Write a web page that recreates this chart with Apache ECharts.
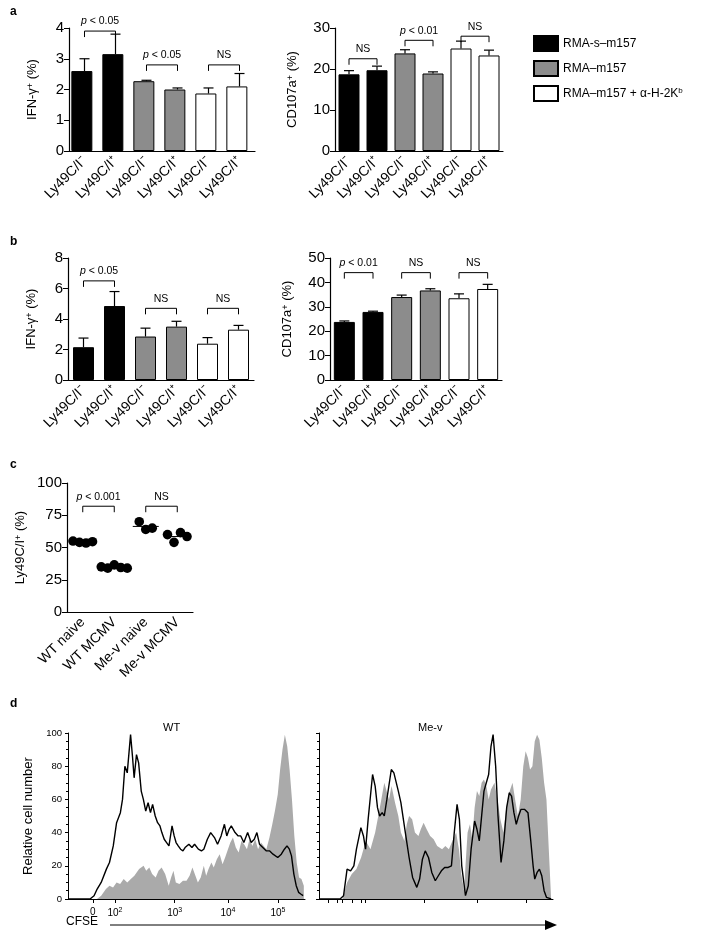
<!DOCTYPE html>
<html><head><meta charset="utf-8">
<script src="https://cdn.jsdelivr.net/npm/echarts@6/dist/echarts.min.js"></script>
<style>html,body{margin:0;padding:0;background:#fff}#c{width:714px;height:942px}</style>
</head><body><div id="c"></div>
<script>
// ---------- data ----------
const barCats = ['Ly49C/I⁻','Ly49C/I⁺','Ly49C/I⁻','Ly49C/I⁺','Ly49C/I⁻','Ly49C/I⁺'];
const barColors = ['#000000','#000000','#8c8c8c','#8c8c8c','#ffffff','#ffffff'];
const aIfnMean = [2.6, 3.15, 2.27, 2.0, 1.87, 2.1];
const aIfnErr  = [0.4, 0.65, 0.03, 0.05, 0.18, 0.42];
const aCdMean  = [18.7, 19.7, 23.8, 18.9, 25.0, 23.3];
const aCdErr   = [0.9, 1.0, 0.9, 0.4, 1.8, 1.3];
const bIfnMean = [2.15, 4.85, 2.85, 3.5, 2.38, 3.3];
const bIfnErr  = [0.6, 0.95, 0.55, 0.35, 0.4, 0.28];
const bCdMean  = [23.8, 27.9, 34.0, 36.7, 33.5, 37.3];
const bCdErr   = [0.4, 0.3, 0.8, 0.7, 1.8, 1.9];
const aIfnSig = [[0,1,3.9,'p < 0.05'],[2,3,2.8,'p < 0.05'],[4,5,2.8,'NS']];
const aCdSig  = [[0,1,22.5,'NS'],[2,3,27,'p < 0.01'],[4,5,28,'NS']];
const bIfnSig = [[0,1,6.5,'p < 0.05'],[2,3,4.7,'NS'],[4,5,4.7,'NS']];
const bCdSig  = [[0,1,44,'p < 0.01'],[2,3,44,'NS'],[4,5,44,'NS']];
const cCats = ['WT naive','WT MCMV','Me-v naive','Me-v MCMV'];
const cWtNaive = [55, 54, 53.5, 54.5];
const cWtMcmv  = [35, 34, 36.5, 34.5, 34];
const cMevNaive = [70, 64, 65];
const cMevMcmv  = [60, 54, 61.5, 58.5];
const cSig = [[0,1,82,'p < 0.001'],[2,3,82,'NS']];
const legendNames = ['RMA-s–m157','RMA–m157','RMA–m157 + α-H-2Kb'];
const dTickVals = [10.5, 19.8, 45, 67.5, 88.6];
const dTickLabels = ['0','10{s|2}','10{s|3}','10{s|4}','10{s|5}'];
const wtBlack = [[0,0],[9.3,0],[11,2],[12.3,6],[14,10],[16.2,18],[17.5,22],[19.1,32],[20.5,46],[22.1,52],[23,60],[24,80],[25,76],[26.4,99],[27.2,86],[27.9,73],[28.9,87],[29.8,82],[30.9,65],[31.8,60],[32.8,53],[33.8,58],[34.8,52],[35.7,57],[36.8,50],[37.8,46],[38.8,44],[39.6,40],[40.6,36],[41.6,34],[42.6,32],[43.9,44],[44.8,38],[45.6,34],[46.5,32],[47.5,30],[48.5,29],[49.4,31],[51,33],[52.3,31],[53.4,33],[55,30],[56.3,29],[57.3,30],[58.8,36],[60.2,40],[61.8,37],[63.1,33],[64.6,38],[66,45],[67,38],[68,42],[68.9,44],[70.5,40],[71.8,38],[72.9,38],[74.2,34],[75.8,40],[77.3,34],[78.6,36],[79.7,40],[80.8,33],[82.2,31],[83.6,29],[85,29],[86.5,27],[88.5,25],[90,27],[91.3,30],[92.4,32],[93.4,30],[94.3,26],[95.3,15],[96.3,8],[97.3,4],[98.2,3],[99.2,2]];
const wtGray = [[12.2,0],[14,2],[16,6],[17.5,8],[19,7],[20.5,10],[22,9],[23.5,12],[25,10],[26.5,12],[28,14],[30,18],[31.9,20],[33,17],[34.3,19],[35.5,15],[37,13],[38.2,17],[39.5,19],[41,15],[42.5,8],[43.5,13],[44.5,17],[45.5,10],[47,9],[48.5,11],[50,11],[51.3,14],[52.5,19],[53.5,15],[54.8,10],[56,13],[57.3,20],[58.3,14],[59.3,18],[60.5,22],[61.5,19],[62.8,24],[64,27],[65.2,21],[66.3,25],[67.5,30],[68.5,34],[69.6,37],[70.8,31],[72,28],[73.2,35],[74.3,33],[75.5,30],[76.6,36],[77.8,32],[79,36],[80.2,30],[81.4,34],[82.6,32],[83.7,30],[85,37],[86.2,45],[87.3,53],[88.5,63],[89.5,78],[90.5,90],[91.5,99],[92.5,92],[93.5,78],[94.5,60],[95.5,38],[96.5,22],[97.5,13],[98.5,12],[99.5,8]];
const mevBlack = [[0,0],[9,0],[10.5,2],[12,18],[13.5,17],[14.9,20],[16,30],[17.9,43],[19,38],[19.9,30],[21,48],[22.9,75],[24,68],[25,55],[25.9,50],[27,52],[27.9,50],[29,60],[30.9,78],[32,76],[33.9,65],[35,58],[36.9,40],[38.5,25],[40,13],[41.8,7],[43,12],[44.2,24],[45.4,29],[46.8,25],[48.2,16],[49.7,11],[51,14],[52.3,17],[53.7,19],[55.2,19],[56.6,20],[57.8,40],[59,57],[60,48],[61,20],[62.6,2],[63.8,8],[65,30],[66.5,47],[67.5,42],[68.5,35],[69.5,50],[70.5,65],[71.5,70],[72.5,75],[73.5,92],[74.4,99],[75.5,80],[76.5,50],[77.8,22],[79,35],[80.2,55],[81.3,64],[82.3,62],[83.3,52],[84.3,45],[85.3,50],[86.3,54],[87.8,54],[89.3,52],[90.5,35],[91.5,20],[92.2,12],[93.2,16],[94.2,18],[95.2,14],[96.2,5],[97.2,1],[98.2,0.5],[99.2,0]];
const mevGray = [[10,0],[12,10],[14,15],[16,18],[18,25],[20,35],[22,30],[24,40],[26,55],[27.9,70],[29.9,60],[31,68],[32.5,58],[33.9,50],[35,40],[36.5,35],[37.5,45],[38.5,50],[39.8,48],[41,40],[42.5,38],[43.5,42],[44.7,46],[46,42],[47.5,38],[49,36],[50.5,32],[52.6,30],[54,32],[55.5,30],[57,35],[58.6,40],[59.8,30],[60.8,15],[62,5],[62.6,20],[63.5,40],[64.5,45],[65.5,36],[66.5,55],[67.5,65],[68.5,62],[69.5,70],[70.5,72],[71.5,68],[72.5,60],[73.5,66],[75,70],[76.5,58],[77.5,48],[78.8,40],[80,55],[81.5,65],[82.7,70],[83.8,60],[85,50],[86.2,60],[87.3,80],[88.3,89],[89.3,85],[90.2,78],[91.2,80],[92.2,95],[93.2,99],[94.2,96],[95.2,85],[96.2,70],[97.2,60],[98.2,30],[99.2,0]];

// ---------- helpers ----------
const FONT = 'Liberation Sans';
const grids = [
  {left:69, top:28, width:186, height:123},
  {left:335, top:28, width:168, height:123},
  {left:68, top:258, width:186, height:122},
  {left:330, top:258, width:172, height:122},
  {left:67, top:483, width:126, height:129},
  {left:68, top:733, width:237, height:166},
  {left:319, top:733, width:234, height:166}
];
const xAxes = [], yAxes = [], series = [];
function catX(gi, cats, rotate) {
  xAxes.push({type:'category', gridIndex:gi, data:cats, boundaryGap:true,
    axisLine:{lineStyle:{color:'#000',width:1.2}}, axisTick:{alignWithLabel:true,length:5,lineStyle:{color:'#000'}},
    axisLabel:{rotate:rotate, color:'#000', fontFamily:FONT, fontSize:14, margin:8, interval:0}});
}
function valY(gi, max, interval, name, gap) {
  yAxes.push({type:'value', gridIndex:gi, min:0, max:max, interval:interval, name:name, nameLocation:'middle', nameGap:gap,
    nameTextStyle:{color:'#000',fontFamily:FONT,fontSize:13, rich:{s:{fontSize:9,verticalAlign:'top',color:'#000'}}},
    splitLine:{show:false}, axisLine:{show:true,lineStyle:{color:'#000',width:1.2}},
    axisTick:{show:true,length:5,lineStyle:{color:'#000'}},
    axisLabel:{color:'#000',fontFamily:FONT,fontSize:15,margin:5}});
}
function bars(gi, means, errs) {
  series.push({type:'bar', xAxisIndex:gi, yAxisIndex:gi, barWidth:21, silent:true,
    data: means.map((v,i)=>({value:v, itemStyle:{color:barColors[i], borderColor:'#000', borderWidth:1}}))});
  series.push({type:'custom', xAxisIndex:gi, yAxisIndex:gi, silent:true, z:1,
    data: means.map((v,i)=>[i, v, v+errs[i]]),
    renderItem:(p,api)=>{
      const a = api.coord([api.value(0), api.value(1)]);
      const b = api.coord([api.value(0), api.value(2)]);
      return {type:'group', children:[
        {type:'line', shape:{x1:a[0],y1:a[1],x2:b[0],y2:b[1]}, style:{stroke:'#000',lineWidth:1.2}},
        {type:'line', shape:{x1:b[0]-5,y1:b[1],x2:b[0]+5,y2:b[1]}, style:{stroke:'#000',lineWidth:1.2}}]};
    }});
}
function sig(gi, list) {
  series.push({type:'custom', xAxisIndex:gi, yAxisIndex:gi, silent:true,
    data: list.map(s=>[s[0], s[1], s[2]]),
    renderItem:(p,api)=>{
      const a = api.coord([api.value(0), api.value(2)]);
      const b = api.coord([api.value(1), api.value(2)]);
      const t = list[p.dataIndex][3];
      const txt = t.startsWith('p') ? '{i|p}' + t.slice(1) : t;
      return {type:'group', children:[
        {type:'polyline', shape:{points:[[a[0],a[1]+6],[a[0],a[1]],[b[0],b[1]],[b[0],b[1]+6]]}, style:{stroke:'#000',fill:null,lineWidth:1}},
        {type:'text', x:(a[0]+b[0])/2, y:a[1]-4, style:{text:txt, align:'center', verticalAlign:'bottom', fontFamily:FONT, fontSize:10.5, fill:'#000',
          rich:{i:{fontStyle:'italic',fontFamily:FONT,fontSize:10.5}}}}]};
    }});
}
function dots(gi, groups) {
  const data = [];
  groups.forEach((g,ci)=>g.forEach((v,k)=>data.push([ci, v, k, g.length])));
  series.push({type:'custom', xAxisIndex:gi, yAxisIndex:gi, silent:true, data:data,
    renderItem:(p,api)=>{
      const c = api.coord([api.value(0), api.value(1)]);
      const off = (api.value(2) - (api.value(3)-1)/2) * 6.5;
      return {type:'circle', shape:{cx:c[0]+off, cy:c[1], r:4.8}, style:{fill:'#000'}};
    }});
  series.push({type:'custom', xAxisIndex:gi, yAxisIndex:gi, silent:true,
    data: groups.map((g,ci)=>[ci, g.reduce((s,v)=>s+v,0)/g.length]),
    renderItem:(p,api)=>{
      const c = api.coord([api.value(0), api.value(1)]);
      return {type:'line', shape:{x1:c[0]-13,y1:c[1],x2:c[0]+13,y2:c[1]}, style:{stroke:'#000',lineWidth:1}};
    }});
}

catX(0, barCats, 45); valY(0, 4, 1, 'IFN-γ{s|+} (%)', 30); bars(0, aIfnMean, aIfnErr); sig(0, aIfnSig);
catX(1, barCats, 45); valY(1, 30, 10, 'CD107a{s|+} (%)', 36); bars(1, aCdMean, aCdErr); sig(1, aCdSig);
catX(2, barCats, 45); valY(2, 8, 2, 'IFN-γ{s|+} (%)', 30); bars(2, bIfnMean, bIfnErr); sig(2, bIfnSig);
catX(3, barCats, 45); valY(3, 50, 10, 'CD107a{s|+} (%)', 36); bars(3, bCdMean, bCdErr); sig(3, bCdSig);
catX(4, cCats, 45); valY(4, 100, 25, 'Ly49C/I{s|+} (%)', 40);
dots(4, [cWtNaive, cWtMcmv, cMevNaive, cMevMcmv]); sig(4, cSig);
[5,6].forEach(gi=>{
  xAxes.push({type:'value', gridIndex:gi, min:0, max:100, splitLine:{show:false},
    axisLine:{lineStyle:{color:'#000'}}, axisTick:{customValues: gi===5?dTickVals:[4,8,10,14,18,19.8,45,67.5,88.6], length:4, lineStyle:{color:'#000'}},
    axisLabel:{show: gi===5, customValues:dTickVals, color:'#000', fontFamily:FONT, fontSize:10,
      formatter:v=>{const i=dTickVals.indexOf(v); return i<0?'':dTickLabels[i];},
      rich:{s:{fontSize:7,verticalAlign:'top',padding:[0,0,6,0]}}}});
  yAxes.push({type:'value', gridIndex:gi, min:0, max:100, interval:20,
    name: gi===5?'Relative cell number':'', nameLocation:'middle', nameGap:33,
    nameTextStyle:{color:'#000',fontFamily:FONT,fontSize:13},
    splitLine:{show:false}, axisLine:{show:true,lineStyle:{color:'#000'}},
    axisTick:{show:true,length:3,lineStyle:{color:'#000'}}, minorTick:{show:true,splitNumber:4,length:2,lineStyle:{color:'#000'}},
    axisLabel:{show: gi===5, color:'#000', fontFamily:FONT, fontSize:9.5, margin:6}});
});
function hist(gi, data, gray) {
  series.push({type:'line', xAxisIndex:gi, yAxisIndex:gi, data:data, showSymbol:false, silent:true,
    lineStyle: gray?{width:0}:{color:'#000',width:1.4}, areaStyle: gray?{color:'#aaaaaa',opacity:1}:undefined,
    z: gray?2:3});
}
hist(5, wtGray, true); hist(5, wtBlack, false);
hist(6, mevGray, true); hist(6, mevBlack, false);

const legColors = ['#000','#8c8c8c','#fff'];
legendNames.forEach((n,i)=>series.push({type:'bar', name:n, xAxisIndex:0, yAxisIndex:0, data:[],
  itemStyle:{color:legColors[i], borderColor:'#000', borderWidth:1}}));

const T = (t,x,y,o)=>Object.assign({type:'text', left:x, top:y, style:{text:t, fontFamily:FONT, fontSize:13, fill:'#000'}}, o||{});
const option = {
  animation:false,
  grid: grids,
  xAxis: xAxes, yAxis: yAxes, series: series,
  legend:{orient:'vertical', left:528, top:30, itemWidth:24, itemHeight:15, itemGap:8, icon:'rect',
    data: legendNames, selectedMode:false,
    textStyle:{fontFamily:FONT, fontSize:12, color:'#000', rich:{s:{fontSize:8,verticalAlign:'top',padding:[0,0,6,0]}}},
    formatter: n => n.endsWith('Kb') ? n.slice(0,-1) + '{s|b}' : n},
  graphic:[
    T('a',10,6,{style:{text:'a',fontFamily:FONT,fontSize:12,fontWeight:'bold',fill:'#000'}}),
    T('b',10,236,{style:{text:'b',fontFamily:FONT,fontSize:12,fontWeight:'bold',fill:'#000'}}),
    T('c',10,459,{style:{text:'c',fontFamily:FONT,fontSize:12,fontWeight:'bold',fill:'#000'}}),
    T('d',10,698,{style:{text:'d',fontFamily:FONT,fontSize:12,fontWeight:'bold',fill:'#000'}}),
    T('WT',163,722,{style:{text:'WT',fontFamily:FONT,fontSize:11,fill:'#000'}}),
    T('Me-v',418,722,{style:{text:'Me-v',fontFamily:FONT,fontSize:11,fill:'#000'}}),
    T('CFSE',66,916,{style:{text:'CFSE',fontFamily:FONT,fontSize:12,fill:'#000'}}),
    {type:'line', shape:{x1:110,y1:925,x2:548,y2:925}, style:{stroke:'#000',lineWidth:1}},
    {type:'polygon', shape:{points:[[545,920],[557,925],[545,930]]}, style:{fill:'#000'}}
  ]
};
echarts.init(document.getElementById('c')).setOption(option);
</script></body></html>
